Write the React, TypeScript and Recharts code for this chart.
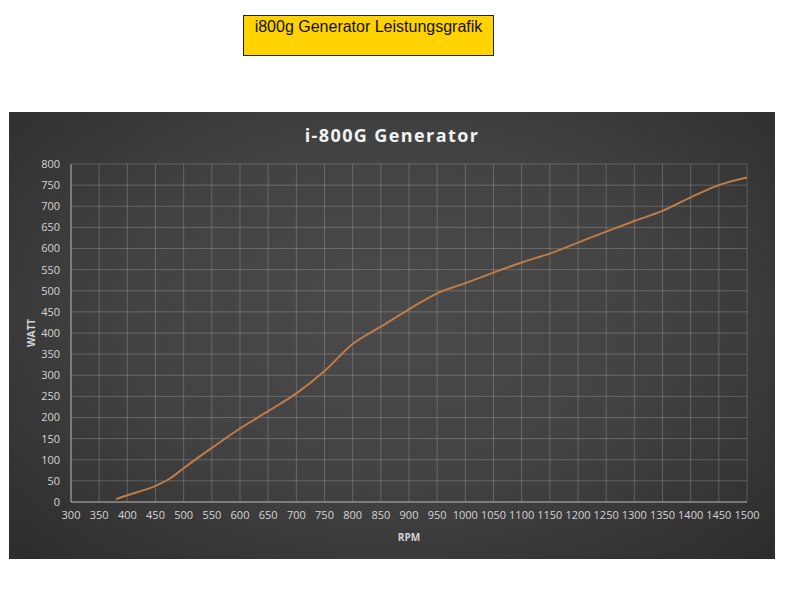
import React from 'react';
import { LineChart, Line, XAxis, YAxis, CartesianGrid } from 'recharts';

const rpm = [380, 400, 450, 475, 500, 550, 600, 650, 700, 750, 800, 850, 900, 950, 1000, 1050, 1100, 1150, 1200, 1250, 1300, 1350, 1400, 1450, 1500];
const watt = [7, 16, 38, 55, 80, 128, 174, 215, 257, 310, 374, 415, 456, 494, 518, 543, 567, 588, 614, 640, 665, 689, 721, 750, 768];
const xTicks = [300, 350, 400, 450, 500, 550, 600, 650, 700, 750, 800, 850, 900, 950, 1000, 1050, 1100, 1150, 1200, 1250, 1300, 1350, 1400, 1450, 1500];
const yTicks = [0, 50, 100, 150, 200, 250, 300, 350, 400, 450, 500, 550, 600, 650, 700, 750, 800];

const data = rpm.map((r, i) => ({ rpm: r, watt: watt[i] }));

const tickStyle = { fill: '#d4d4d4', fontSize: 11, fontFamily: '"Open Sans", sans-serif' };

export default function App() {
  return (
    <div style={{ position: 'absolute', left: 0, top: 0, width: 785, height: 610, background: '#fff', overflow: 'hidden' }}>
      <div
        style={{
          position: 'absolute', left: 243, top: 15, width: 249, height: 39,
          background: '#FFD200', border: '1px solid #222',
          fontFamily: '"Liberation Sans", Arial, sans-serif', fontSize: 16, color: '#111',
          textAlign: 'center', lineHeight: '22px',
        }}
      >
        i800g Generator Leistungsgrafik
      </div>
      <div
        style={{
          position: 'absolute', left: 9, top: 112, width: 766, height: 447,
          background: 'radial-gradient(ellipse at 50% 45%, #4a4a4a 0%, #424242 50%, #2c2c2c 100%)',
        }}
      >
        <div
          style={{
            position: 'absolute', left: 0, top: 11, width: 766, textAlign: 'center',
            color: '#f2f2f2', fontFamily: '"Open Sans", sans-serif', fontWeight: 700, fontSize: 18, letterSpacing: 1.4,
            lineHeight: '24.5px',
          }}
        >
          i-800G Generator
        </div>
        <LineChart width={766} height={447} data={data} margin={{ top: 52, right: 28, left: 22, bottom: 27 }}>
          <CartesianGrid stroke="rgba(255,255,255,0.2)" strokeWidth={1} />
          <XAxis
            dataKey="rpm" type="number" domain={[300, 1500]} ticks={xTicks} interval={0}
            height={30} tickSize={0} tickMargin={9} tick={tickStyle}
            axisLine={{ stroke: '#a8a8a8' }} tickLine={false}
          />
          <YAxis
            type="number" domain={[0, 800]} ticks={yTicks} interval={0}
            width={40} tickSize={0} tickMargin={11} tick={tickStyle}
            axisLine={{ stroke: '#a8a8a8' }} tickLine={false}
          />
          <Line type="monotone" dataKey="watt" stroke="#c07c46" strokeWidth={2} dot={false} isAnimationActive={false} />
        </LineChart>
        <div
          style={{
            position: 'absolute', left: 380, top: 418, width: 40, textAlign: 'center',
            color: '#d4d4d4', fontFamily: '"Open Sans", sans-serif', fontWeight: 700, fontSize: 10,
          }}
        >
          RPM
        </div>
        <div
          style={{
            position: 'absolute', left: 2, top: 214, width: 40, height: 14, textAlign: 'center',
            color: '#d4d4d4', fontFamily: '"Open Sans", sans-serif', fontWeight: 700, fontSize: 10,
            transform: 'rotate(-90deg)', lineHeight: '14px',
          }}
        >
          WATT
        </div>
      </div>
    </div>
  );
}
